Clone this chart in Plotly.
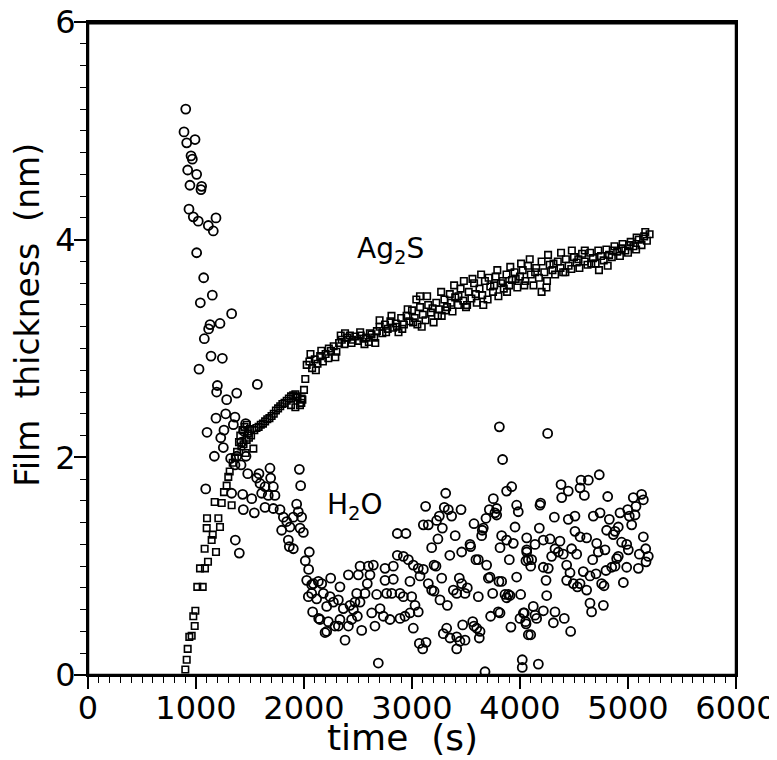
import plotly.graph_objects as go

# --- dados (tempo em s, espessura em nm) ---

# Ag2S (quadrados) - subida inicial
ag2s_t_subida = [901, 914, 923, 938, 960, 975, 988, 994, 1012, 1037, 1062, 1080, 1083, 1099,
                 1102, 1111, 1145, 1155, 1173, 1185, 1207, 1222, 1238, 1259, 1284, 1299, 1312,
                 1330, 1340, 1360, 1380, 1398, 1410, 1420, 1430, 1440, 1450, 1460, 1469, 1470,
                 1480, 1490, 1500, 1510, 1531]
ag2s_e_subida = [0.05, 0.14, 0.24, 0.35, 0.36, 0.54, 0.45, 0.59, 0.81, 0.98, 0.81, 1.16, 0.98, 1.35,
                 1.44, 1.04, 1.24, 1.29, 1.59, 1.13, 1.44, 1.36, 1.58, 1.68, 1.74, 1.82, 1.87,
                 1.56, 1.95, 2.00, 2.05, 2.14, 2.20, 2.10, 2.25, 2.12, 2.28, 2.04, 2.16, 2.30,
                 2.22, 2.18, 2.26, 2.20, 2.08]

# Ag2S - trecho 1500-2000 s
ag2s_t_meio = [1540, 1560, 1580, 1600, 1620, 1640, 1660, 1680, 1700, 1720, 1740, 1760, 1780,
               1800, 1820, 1840, 1860, 1880, 1880, 1900, 1920, 1920, 1932, 1940, 1963, 1975,
               1978, 1985]
ag2s_e_meio = [2.25, 2.27, 2.28, 2.30, 2.31, 2.33, 2.35, 2.36, 2.38, 2.40, 2.43, 2.45, 2.47,
               2.49, 2.50, 2.52, 2.54, 2.56, 2.48, 2.57, 2.58, 2.46, 2.56, 2.55, 2.48, 2.50,
               2.54, 2.53]

# Ag2S - trecho 2000-5200 s
ag2s_t_fim = [2000, 2012, 2025, 2050, 2075, 2100, 2125, 2150, 2175, 2200, 2225, 2250, 2275,
              2300, 2325, 2350, 2375, 2400, 2425, 2450, 2475, 2500, 2525, 2550, 2575, 2600,
              2625, 2650, 2675, 2700, 2725, 2750, 2775, 2800, 2825, 2850, 2875, 2900, 2925,
              2950, 2975, 3000, 3025, 3050, 3075, 3100, 3125, 3150, 3175, 3200, 3225, 3250,
              3275, 3300, 3325, 3350, 3375, 3400, 3425, 3450, 3475, 3500, 3525, 3550, 3575,
              3600, 3625, 3650, 3675, 3700, 3725, 3750, 3775, 3800, 3825, 3850, 3875, 3900,
              3925, 3950, 3975, 4000, 4025, 4050, 4075, 4100, 4125, 4150, 4175, 4200, 4225,
              4250, 4275, 4300, 4325, 4350, 4375, 4400, 4425, 4450, 4475, 4500, 4525, 4550,
              4575, 4600, 4625, 4650, 4675, 4700, 4725, 4750, 4775, 4800, 4825, 4850, 4875,
              4900, 4925, 4950, 4975, 5000, 5025, 5050, 5075, 5100, 5125, 5150, 5175, 5200,
              2060, 2110, 2160, 2230, 2290, 2340, 2380, 2440, 2520, 2560, 2610, 2660, 2700,
              2760, 2810, 2860, 2910, 2960, 3010, 3040, 3074, 3090, 3140, 3190, 3240, 3270,
              3310, 3360, 3390, 3430, 3480, 3510, 3560, 3590, 3640, 3660, 3710, 3760, 3790,
              3840, 3880, 3910, 3960, 4010, 4040, 4090, 4140, 4200, 4245, 4260, 4310, 4380,
              4420, 4480, 4540, 4600, 4660, 4731, 4812, 4860, 4940, 5010, 5080, 5160]
ag2s_e_fim = [2.62, 2.72, 2.85, 2.88, 2.82, 2.90, 2.86, 2.93, 2.88, 2.95, 2.91, 2.98, 3.02,
              2.97, 3.05, 3.08, 3.04, 3.10, 3.12, 3.08, 3.11, 3.07, 3.12, 3.09, 3.10, 3.06,
              3.13, 3.10, 3.16, 3.20, 3.14, 3.22, 3.18, 3.25, 3.19, 3.23, 3.15, 3.28, 3.22,
              3.30, 3.25, 3.35, 3.28, 3.22, 3.38, 3.31, 3.26, 3.40, 3.33, 3.24, 3.42, 3.36,
              3.30, 3.45, 3.38, 3.50, 3.34, 3.47, 3.40, 3.55, 3.44, 3.38, 3.52, 3.46, 3.60,
              3.42, 3.55, 3.49, 3.62, 3.45, 3.57, 3.52, 3.66, 3.48, 3.60, 3.55, 3.68, 3.58,
              3.63, 3.70, 3.56, 3.66, 3.72, 3.62, 3.76, 3.68, 3.58, 3.74, 3.65, 3.80, 3.70,
              3.62, 3.77, 3.72, 3.68, 3.80, 3.74, 3.70, 3.82, 3.76, 3.73, 3.84, 3.79, 3.74,
              3.87, 3.80, 3.77, 3.88, 3.83, 3.78, 3.90, 3.85, 3.81, 3.91, 3.86, 3.84, 3.94,
              3.89, 3.85, 3.96, 3.90, 3.88, 3.98, 3.94, 3.91, 4.00, 3.95, 4.03, 3.99, 4.05,
              2.95, 2.80, 2.98, 3.00, 2.92, 3.12, 3.14, 3.05, 3.15, 3.04, 3.14, 3.05, 3.26,
              3.15, 3.30, 3.20, 3.18, 3.36, 3.24, 3.45, 3.48, 3.20, 3.48, 3.37, 3.30, 3.52,
              3.35, 3.42, 3.58, 3.48, 3.62, 3.40, 3.64, 3.50, 3.68, 3.40, 3.65, 3.58, 3.72,
              3.62, 3.52, 3.75, 3.64, 3.78, 3.58, 3.82, 3.70, 3.52, 3.56, 3.86, 3.78, 3.88,
              3.70, 3.90, 3.82, 3.90, 3.78, 3.72, 3.76, 3.90, 3.92, 3.95, 4.02, 4.07]

# H2O (círculos)
h2o_t = [905, 889, 914, 991, 954, 966, 923, 1006, 944, 1052, 1046, 935, 975, 1021, 1114, 1160,
         1185, 1006, 1071, 1151, 1040, 1330, 1130, 1117, 1222, 1077, 1139, 1244, 1028, 1568,
         1198, 1191, 1377, 1284, 1185, 1275, 1361, 1346, 1102, 1259, 1229, 1253, 1170, 1460,
         1444, 1423, 1377, 1321, 1361, 1417, 1463, 1479, 1562, 1583, 1593, 1639, 1685, 1691,
         1716, 1731, 1669, 1608, 1330, 1432, 1516, 1438, 1540, 1090, 1364, 1401, 1957, 1969,
         1639, 1716, 1778, 1809, 1932, 1947, 1978, 1901, 1840, 1793, 1870, 1963, 1994, 1855,
         1901, 1864, 2049, 2012, 2043, 2025, 2086, 2133, 2040, 2117, 2080, 2136,
         2071, 2164, 2247, 2179, 2071, 2241, 2272, 2210, 2148, 2225, 2195, 2287, 2318, 2380,
         2333, 2411, 2441, 2457, 2411, 2503, 2519, 2596, 2642, 2611, 2586, 2565, 2519, 2488,
         2673, 2627, 2704, 2735, 2765, 2812, 2750, 2827, 2750, 2827, 2864, 2944, 2864, 2920,
         2966, 3012, 3058, 3105, 3074, 2981, 2889, 2920, 2997, 3028, 3058, 2981, 2935, 2889,
         3012, 2688, 2796, 2657, 2534, 2494, 2318, 2364, 2426, 2472, 2333, 2210,
         3126, 3105, 3151, 3228, 3253, 3312, 3299, 3336, 3367, 3281, 3454, 3182, 3204, 3222,
         3151, 3182, 3204, 3275, 3259, 3327, 3383, 3414, 3438, 3460, 3491, 3512, 3460, 3537,
         3543, 3574, 3592, 3614, 3614, 3691, 3651, 3660, 3645, 3685, 3716, 3753, 3784, 3768,
         3784, 3809, 3839, 3876, 3923, 3830, 3876, 3938, 3815, 3901, 3969, 3984, 3954, 4062,
         4062, 4077, 3722, 3707, 3805, 3747, 3861, 3892, 3876, 3969, 4006, 3799, 3728, 3916,
         4000, 4040, 4052, 4077, 3321, 3290, 3352, 3414, 3444, 3414, 3491, 3469, 3562, 3574,
         3599, 3630, 3623, 3068, 3130, 3099, 3676, 4021, 4021, 3240, 3350, 3400,
         4256, 4185, 4191, 4380, 4447, 4386, 4565, 4633, 4556, 4596, 4734, 4812, 4318, 4447,
         4509, 4679, 4741, 4827, 4802, 4926, 4997, 5012, 5065, 5049, 5142, 5126, 5034, 5074,
         4179, 4139, 4216, 4278, 4370, 4509, 4556, 4617, 4710, 4725, 4787, 4864, 4910, 4880,
         4941, 5003, 4988, 5142, 5164, 5188, 5105, 5167, 5096, 4062, 4055, 4108, 4099, 4293,
         4324, 4355, 4401, 4216, 4262, 4241, 4478, 4525, 4432, 4463, 4432, 4494, 4531, 4556,
         4617, 4586, 4648, 4704, 4673, 4756, 4778, 4796, 4849, 4880, 4910, 4895, 4988, 4957,
         4648, 4663, 4772, 3830, 3907, 3815, 4247, 4123, 4031, 4056, 4154, 4139, 4216, 4324,
         4309, 4410, 4099, 4469, 4170]
h2o_e = [5.20, 4.99, 4.89, 4.92, 4.77, 4.74, 4.64, 4.60, 4.50, 4.49, 4.46, 4.28, 4.21, 4.17, 4.13, 4.08,
         4.20, 3.88, 3.65, 3.49, 3.42, 3.32, 3.22, 3.18, 3.23, 3.09, 2.93, 2.91, 2.81, 2.67,
         2.66, 2.60, 2.59, 2.53, 2.36, 2.40, 2.37, 2.30, 2.23, 2.25, 2.18, 2.09, 2.01, 2.31,
         2.24, 2.14, 2.01, 1.99, 1.93, 1.93, 2.01, 1.85, 1.81, 1.85, 1.76, 1.73, 1.90, 1.81,
         1.73, 1.65, 1.65, 1.67, 1.67, 1.66, 1.62, 1.52, 1.49, 1.71, 1.24, 1.12, 1.89, 1.74,
         1.54, 1.53, 1.52, 1.45, 1.57, 1.50, 1.45, 1.45, 1.41, 1.33, 1.36, 1.35, 1.31, 1.24,
         1.16, 1.18, 1.13, 1.05, 0.97, 0.87, 0.84, 0.86, 0.72, 0.70, 0.58, 0.52,
         0.83, 0.84, 0.89, 0.75, 0.75, 0.72, 0.67, 0.63, 0.51, 0.49, 0.39, 0.45, 0.45, 0.32,
         0.51, 0.45, 0.51, 0.60, 0.92, 0.92, 1.00, 1.00, 1.01, 0.92, 0.84, 0.75, 0.67, 0.75,
         0.74, 0.57, 0.61, 0.54, 0.75, 0.75, 0.87, 0.88, 0.98, 1.00, 1.30, 1.30, 1.10, 1.09,
         1.06, 1.01, 0.98, 0.97, 0.91, 0.86, 0.75, 0.72, 0.72, 0.64, 0.58, 0.57, 0.54, 0.52,
         0.43, 0.11, 0.51, 0.45, 0.41, 0.54, 0.69, 0.61, 0.64, 0.67, 0.81, 0.40,
         1.55, 1.38, 1.38, 1.42, 1.46, 1.67, 1.54, 1.52, 1.46, 1.35, 1.52, 1.17, 1.01, 1.00,
         0.84, 0.78, 0.77, 0.89, 0.69, 0.64, 0.78, 0.75, 0.89, 0.84, 0.75, 0.80, 1.13, 1.20,
         1.18, 1.39, 1.06, 1.06, 0.72, 1.01, 1.33, 1.35, 1.28, 1.44, 1.52, 1.62, 1.53, 1.49,
         1.47, 2.28, 1.98, 1.69, 1.73, 1.28, 1.24, 1.21, 1.17, 1.06, 1.56, 1.50, 1.36, 1.26,
         1.13, 1.06, 0.90, 0.89, 0.86, 0.75, 0.74, 0.74, 0.71, 0.90, 0.74, 0.58, 0.54, 0.44,
         0.52, 0.57, 0.49, 0.37, 0.43, 0.38, 0.34, 0.35, 0.31, 0.24, 0.32, 0.46, 0.49, 0.45,
         0.43, 0.40, 0.34, 0.29, 0.30, 0.24, 0.03, 0.14, 0.07, 1.25, 1.10, 1.28,
         2.22, 1.56, 1.58, 1.75, 1.69, 1.63, 1.79, 1.79, 1.72, 1.65, 1.84, 1.64, 1.45, 1.43,
         1.46, 1.46, 1.49, 1.43, 1.33, 1.49, 1.52, 1.46, 1.47, 1.63, 1.61, 1.66, 1.38, 1.55,
         1.35, 1.20, 1.24, 1.25, 1.23, 1.32, 1.27, 1.26, 1.21, 1.13, 1.15, 1.29, 1.36, 1.32,
         1.22, 1.15, 1.20, 1.27, 1.16, 1.09, 1.11, 1.04, 0.98, 1.15, 1.05, 1.06, 1.00, 1.09,
         1.16, 1.13, 1.11, 0.99, 0.98, 0.87, 1.16, 1.11, 1.01, 0.94, 0.87, 0.84, 0.81, 0.84,
         0.78, 0.95, 0.91, 0.93, 1.06, 0.84, 0.82, 0.96, 0.99, 1.00, 1.09, 1.07, 0.99, 0.85,
         0.66, 0.58, 0.64, 0.86, 0.73, 0.57, 0.73, 0.63, 0.57, 0.47, 0.52, 0.55, 0.59, 0.58,
         0.48, 0.52, 0.37, 0.40, 0.10]

FONTE = "DejaVu Sans"

ag2s_t = ag2s_t_subida + ag2s_t_meio + ag2s_t_fim
ag2s_e = ag2s_e_subida + ag2s_e_meio + ag2s_e_fim

fig = go.Figure()

fig.add_trace(go.Scatter(
    x=ag2s_t, y=ag2s_e, mode="markers", name="Ag2S",
    marker=dict(symbol="square-open", size=6.5, color="black", line=dict(width=1.6, color="black"))
))

fig.add_trace(go.Scatter(
    x=h2o_t, y=h2o_e, mode="markers", name="H2O",
    marker=dict(symbol="circle-open", size=9, color="black", line=dict(width=1.8, color="black"))
))

# rótulos das séries dentro do gráfico
fig.add_annotation(x=2800, y=3.905, text="Ag<sub>2</sub>S", showarrow=False,
                   font=dict(family=FONTE, size=28, color="black"))
fig.add_annotation(x=2470, y=1.545, text="H<sub>2</sub>O", showarrow=False,
                   font=dict(family=FONTE, size=28, color="black"))

# títulos dos eixos como anotações (posição igual à do original)
fig.add_annotation(xref="paper", yref="paper", x=-0.094, y=0.552,
                   xanchor="center", yanchor="middle",
                   text="Film&nbsp;&nbsp;thickness&nbsp;&nbsp;(nm)", textangle=-90,
                   showarrow=False, font=dict(family=FONTE, size=33, color="black"))
fig.add_annotation(xref="paper", yref="paper", x=0.486, y=-0.095,
                   xanchor="center", yanchor="middle",
                   text="time&nbsp;&nbsp;(s)",
                   showarrow=False, font=dict(family=FONTE, size=36, color="black"))

# moldura completa do gráfico (a linha de cima sozinha não aparecia)
fig.add_shape(type="rect", xref="paper", yref="paper", x0=0, x1=1, y0=0, y1=0.998,
              line=dict(color="black", width=2.5), layer="above")

fig.update_xaxes(
    range=[0, 6000], dtick=1000, ticks="outside", ticklen=12, tickwidth=1.5,
    tickcolor="black", showline=True, linecolor="black", linewidth=2, mirror=True,
    showgrid=False, zeroline=False, automargin=False, ticklabelstandoff=-8,
    ticklabeloverflow="allow",
    minor=dict(dtick=100, ticks="outside", ticklen=6, tickwidth=1.2, tickcolor="black"),
    tickfont=dict(family=FONTE, size=32, color="black")
)

fig.update_yaxes(
    range=[0, 6], dtick=2, ticks="outside", ticklen=12, tickwidth=1.5,
    tickcolor="black", showline=True, linecolor="black", linewidth=2, mirror=True,
    showgrid=False, zeroline=False, automargin=False, ticklabelstandoff=-8,
    ticklabeloverflow="allow",
    minor=dict(dtick=0.2, ticks="outside", ticklen=6, tickwidth=1.2, tickcolor="black"),
    tickfont=dict(family=FONTE, size=32, color="black")
)

# a página tem 8 px de margem no body, por isso a figura é 8 px menor
fig.update_layout(
    width=769, height=752,
    margin=dict(l=80, r=41, t=14, b=85),
    plot_bgcolor="white", paper_bgcolor="white",
    showlegend=False
)

fig.write_html("out.html", config={"displayModeBar": False})
